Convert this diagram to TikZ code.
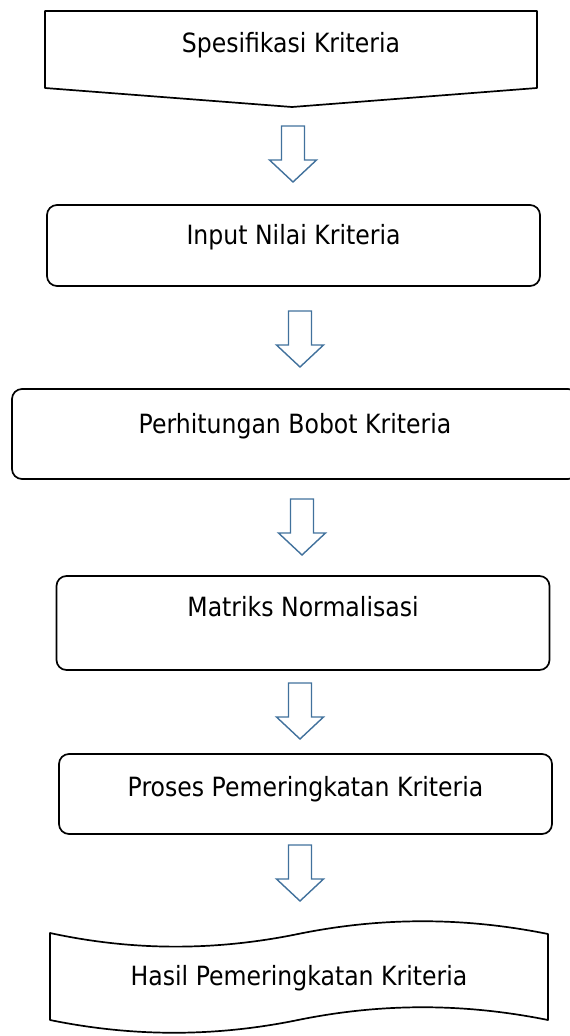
\documentclass[tikz,border=0pt]{standalone}
\usepackage{fontspec}
\setmainfont{DejaVu Sans}[FakeStretch=0.89]
\definecolor{arrowblue}{HTML}{41719C}
\tikzset{
  boxline/.style={draw=black, line width=1.7pt, line join=round},
  procbox/.style={boxline, rounded corners=10pt, fill=white, inner sep=0pt},
  label/.style={font=\fontsize{26.5}{30}\selectfont, inner sep=0pt, anchor=base},
  blockarrow/.style={draw=arrowblue, line width=1.4pt, fill=white, line join=miter},
  downarrow/.pic={\draw[blockarrow] (-11.5,-28) -- (11.5,-28) -- (11.5,6) -- (23.5,6) -- (0,28) -- (-23.5,6) -- (-11.5,6) -- cycle;}
}
\begin{document}
\begin{tikzpicture}[x=1pt,y=-1pt]
\useasboundingbox (0,0) rectangle (570,1036);
% Box 1: off-page connector
\draw[boxline] (45,11) -- (537,11) -- (537,88) -- (292,107) -- (45,88) -- cycle;
\node[label] (t1) at (291,52) {Spesifikasi Kriteria};
\pic at (293,154) {downarrow};
% Box 2
\node[procbox, minimum width=493pt, minimum height=81pt] (b2) at (293.5,245.5) {};
\node[label] (t2) at (293.5,244) {Input Nilai Kriteria};
\pic at (300,339) {downarrow};
% Box 3
\node[procbox, minimum width=566pt, minimum height=90pt] (b3) at (295,434) {};
\node[label] (t3) at (295,433) {Perhitungan Bobot Kriteria};
\pic at (302,527) {downarrow};
% Box 4
\node[procbox, minimum width=493pt, minimum height=94pt] (b4) at (303,623) {};
\node[label] (t4) at (303,616) {Matriks Normalisasi};
\pic at (300,711) {downarrow};
% Box 5
\node[procbox, minimum width=493pt, minimum height=80pt] (b5) at (305.5,794) {};
\node[label] (t5) at (305.5,796) {Proses Pemeringkatan Kriteria};
\pic at (300,873) {downarrow};
% Box 6: punched tape
\draw[boxline] (50,933) .. controls (133,951) and (215,951) .. (298,934)
  .. controls (381,917) and (464,917) .. (548,934)
  -- (548,1020) .. controls (464,1003) and (381,1003) .. (298,1020)
  .. controls (215,1037) and (133,1037) .. (50,1020) -- cycle;
\node[label] (t6) at (299,985) {Hasil Pemeringkatan Kriteria};
\end{tikzpicture}
\end{document}
